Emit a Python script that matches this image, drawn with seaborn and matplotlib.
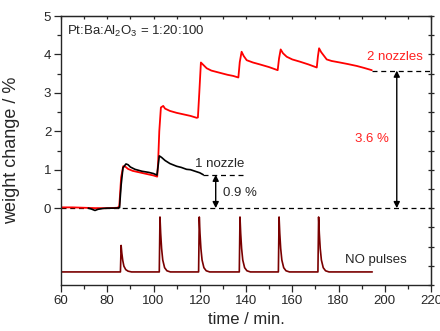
import numpy as np
import seaborn as sns
import matplotlib.pyplot as plt

# weight change curves
red_t = [60, 65, 70, 75, 80, 84.5, 85.2, 86.0, 86.9, 87.8, 89, 91, 94, 97, 100, 101.6,
         102.0, 102.5, 103.2, 104.2, 105, 107.1, 110, 113, 116, 118.7, 119.2, 119.8, 120.5,
         121.5, 123, 125, 128.8, 132, 134.5, 136.7, 137.3, 138.1, 139, 140.3, 143, 146, 150,
         153.7, 154.3, 155.0, 156, 157.6, 160, 163.4, 167, 170.6, 171.1, 171.6, 172.5, 174.9,
         177, 180.6, 184, 187.9, 191, 194.4]
red_w = [0.02, 0.02, 0.01, 0.0, 0.0, 0.01, 0.05, 0.8, 1.09, 1.08, 1.02, 0.97, 0.93, 0.89, 0.85, 0.82,
         1.2, 2.0, 2.62, 2.66, 2.59, 2.53, 2.48, 2.44, 2.40, 2.35, 2.36, 3.0, 3.79,
         3.73, 3.64, 3.58, 3.52, 3.47, 3.44, 3.40, 3.8, 4.07, 3.96, 3.85, 3.79, 3.74, 3.67,
         3.59, 3.9, 4.13, 4.03, 3.94, 3.87, 3.81, 3.74, 3.66, 3.95, 4.16, 4.06, 3.87,
         3.83, 3.79, 3.75, 3.70, 3.65, 3.59]

blk_t = [71.8, 73, 74.7, 76, 78, 80, 83, 85.3, 86, 86.8, 88.1, 89, 90, 92, 95, 98, 100, 101.5,
         102.0, 102.5, 103.5, 105, 107.1, 110, 112, 114.3, 116, 118, 120, 121.5]
blk_w = [0.0, -0.02, -0.06, -0.03, -0.01, 0.0, 0.0, 0.01, 0.6, 1.05, 1.15, 1.13, 1.07, 1.01, 0.96, 0.93, 0.90, 0.86,
         1.1, 1.36, 1.32, 1.24, 1.16, 1.09, 1.06, 1.01, 1.0, 0.96, 0.92, 0.87]

# NO pulses trace (arbitrary offset below zero)
no_t = [60, 85.7, 86.0, 86.3, 86.7, 87.2, 88.0, 89.0, 90.5,
        102.5, 102.8, 103.1, 103.5, 104.0, 104.8, 105.8, 107.3,
        119.5, 119.8, 120.1, 120.5, 121.0, 121.8, 122.8, 124.3,
        137.1, 137.4, 137.7, 138.1, 138.6, 139.4, 140.4, 141.9,
        154.0, 154.3, 154.6, 155.0, 155.5, 156.3, 157.3, 158.8,
        171.1, 171.4, 171.7, 172.1, 172.6, 173.4, 174.4, 175.9, 194.6]
no_w = [-1.66, -1.66, -0.97, -1.17, -1.36, -1.51, -1.60, -1.64, -1.66,
        -1.66, -0.23, -0.65, -1.05, -1.35, -1.55, -1.63, -1.66,
        -1.66, -0.23, -0.65, -1.05, -1.35, -1.55, -1.63, -1.66,
        -1.66, -0.23, -0.65, -1.05, -1.35, -1.55, -1.63, -1.66,
        -1.66, -0.23, -0.65, -1.05, -1.35, -1.55, -1.63, -1.66,
        -1.66, -0.23, -0.65, -1.05, -1.35, -1.55, -1.63, -1.66, -1.66]

two_end = 3.58
one_end = 0.87

sns.set_style("ticks")
plt.rcParams['font.family'] = ['Liberation Sans', 'DejaVu Sans']
plt.rcParams['mathtext.fontset'] = 'custom'
plt.rcParams['mathtext.rm'] = 'Liberation Sans'

fig = plt.figure(figsize=(4.4, 3.31), dpi=100)
ax = fig.add_axes([61/440, 46/331, 370/440, 269/331])

# reference dashed lines
ax.plot([60, 220], [0, 0], color='k', lw=0.9, ls=(0, (4, 3)), zorder=1)
ax.plot([194.4, 220], [two_end, two_end], color='k', lw=0.9, ls=(0, (4, 3)), zorder=1)
ax.plot([121.5, 139.6], [one_end, one_end], color='k', lw=0.9, ls=(0, (4, 3)), zorder=1)

sns.lineplot(x=no_t, y=no_w, color='#7a0000', lw=1.2, sort=False, estimator=None, ax=ax)
sns.lineplot(x=red_t, y=red_w, color='#ff0000', lw=1.3, sort=False, estimator=None, ax=ax)
sns.lineplot(x=blk_t, y=blk_w, color='k', lw=1.2, sort=False, estimator=None, ax=ax)

arrow = dict(arrowstyle='<|-|>', color='k', lw=1, shrinkA=0, shrinkB=0, mutation_scale=9)
ax.annotate('', xy=(205.2, 0), xytext=(205.2, two_end), arrowprops=arrow)
ax.annotate('', xy=(126.9, 0), xytext=(126.9, one_end), arrowprops=arrow)

ax.text(62.5, 4.6, r'Pt:Ba:Al$\mathregular{_2}$O$\mathregular{_3}$ = 1:20:100', fontsize=9.5, va='center')
ax.text(216.5, 3.93, '2 nozzles', color='#ff2020', fontsize=9.5, ha='right', va='center')
ax.text(194.3, 1.8, '3.6 %', color='#ff2020', fontsize=9.5, ha='center', va='center')
ax.text(118, 1.15, '1 nozzle', fontsize=9.5, va='center')
ax.text(130.1, 0.4, '0.9 %', fontsize=9.5, va='center')
ax.text(183, -1.35, 'NO pulses', fontsize=9.5, va='center')

ax.set_xlim(60, 220)
ax.set_ylim(-2, 5)
ax.set_xticks([60, 80, 100, 120, 140, 160, 180, 200, 220])
ax.set_xticks([70, 90, 110, 130, 150, 170, 190, 210], minor=True)
ax.set_yticks([0, 1, 2, 3, 4, 5])
ax.set_yticks([0.5, 1.5, 2.5, 3.5, 4.5], minor=True)
ax.tick_params(which='major', direction='out', length=5, width=0.9, labelsize=9.5, pad=2)
ax.tick_params(which='minor', direction='out', length=3, width=0.9)
ax.set_xlabel('time / min.', fontsize=12)
ax.set_ylabel('weight change / %', fontsize=13)
ax.yaxis.set_label_coords(-0.112, 0.5)

top = ax.secondary_xaxis('top')
top.set_xticks([60, 70, 80, 90, 100, 110, 120, 130, 140, 150, 160, 170, 180, 190, 200, 210, 220])
top.tick_params(direction='in', length=2.5, width=0.9, labeltop=False)
right = ax.secondary_yaxis('right')
right.set_yticks([-2, -1.5, -1, -0.5, 0, 0.5, 1, 1.5, 2, 2.5, 3, 3.5, 4, 4.5, 5])
right.tick_params(direction='inout', length=5, width=0.9, labelright=False)

for sp in ax.spines.values():
    sp.set_linewidth(1.0)

fig.savefig('out.png', dpi=100)
